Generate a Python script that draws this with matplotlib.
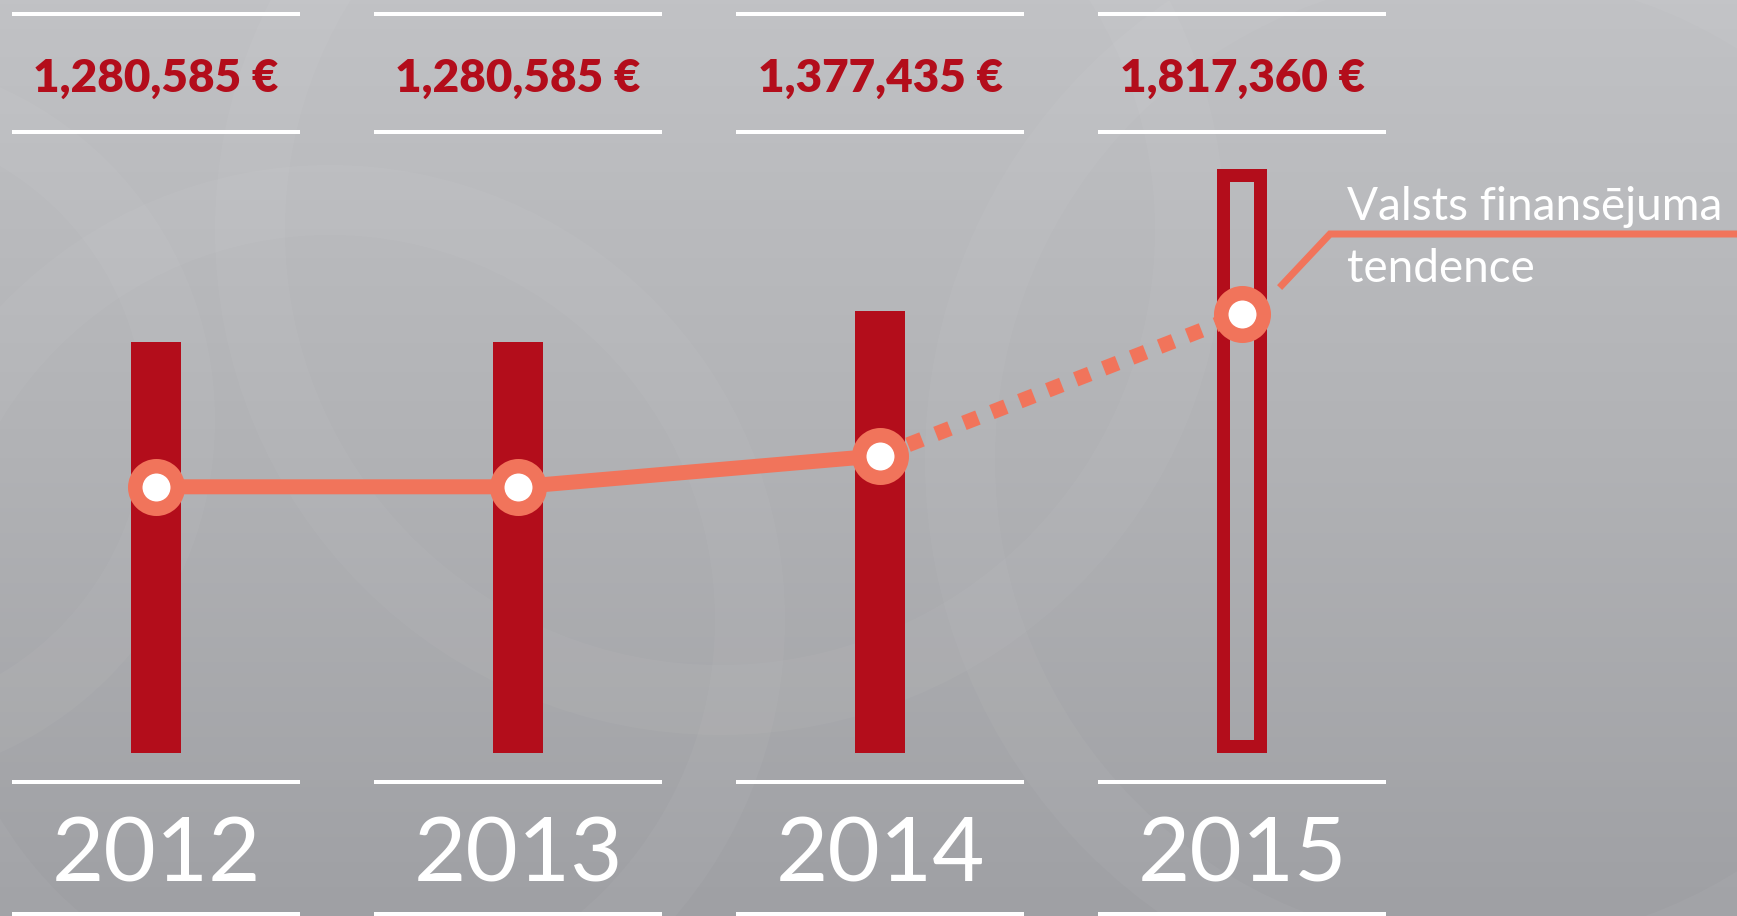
import matplotlib.pyplot as plt
import matplotlib.colors as mcolors
from matplotlib.patches import Circle
from matplotlib.transforms import ScaledTranslation, blended_transform_factory
import numpy as np

years = ['2012', '2013', '2014', '2015']
funding = [1280585, 1280585, 1377435, 1817360]
funding_labels = ['1,280,585 €', '1,280,585 €', '1,377,435 €', '1,817,360 €']
note_lines = ['Valsts finansējuma', 'tendence']

RED = '#b30d1b'
SALMON = '#f1745b'
W, H, DPI = 1737, 916, 100


def px(v):
    # pixels -> points
    return v * 72 / DPI


def backdrop(fig):
    bg = fig.add_axes([0, 0, 1, 1], zorder=-1)
    grad = np.linspace(0, 1, 256).reshape(-1, 1)
    cmap = mcolors.LinearSegmentedColormap.from_list('bg', ['#c1c2c5', '#b1b2b5', '#9fa0a4'])
    bg.imshow(grad, cmap=cmap, extent=[0, W, H, 0], aspect='auto')
    # faint rings of the background emblem (pixel space)
    for cx, cy, r in [(1480, 460, 520), (720, 230, 470), (330, 620, 420), (-150, 420, 330)]:
        bg.add_patch(Circle((cx, cy), r, fill=False, edgecolor='white', alpha=0.035,
                            linewidth=px(70)))
    bg.set_xlim(0, W)
    bg.set_ylim(H, 0)
    bg.axis('off')


def main():
    fig = plt.figure(figsize=(W / DPI, H / DPI), dpi=DPI)
    backdrop(fig)

    ax = fig.add_axes([0, 0, 1, 1])
    ax.patch.set_visible(False)
    ax.set_xlim(-0.431, 4.367)
    ax.set_ylim(-507600, 2345000)
    ax.axis('off')

    x = np.arange(len(years))
    bw = 0.138

    ax.bar(x[:3], funding[:3], width=bw, color=RED, zorder=2)
    outline = ax.bar(x[3:], funding[3:], width=bw, fill=False, edgecolor=RED,
                     linewidth=px(26), zorder=2)
    for b in outline:
        b.set_clip_path(b)  # keep the stroke inside the bar

    # trend line sits a fixed distance below the bar tops
    shift = ax.transData + ScaledTranslation(0, -1.45, fig.dpi_scale_trans)
    ax.plot(x[:3], funding[:3], color=SALMON, lw=px(15), transform=shift, zorder=3,
            solid_capstyle='butt')
    ax.plot(x[2:], funding[2:], color=SALMON, lw=px(15), ls=(0, (1, 1)),
            dash_capstyle='butt', transform=shift, zorder=3)
    ax.plot(x, funding, ls='none', marker='o', ms=px(42.5), mfc='white', mec=SALMON,
            mew=px(14.5), transform=shift, zorder=4)

    # white rules around labels
    tr = blended_transform_factory(ax.transData, ax.transAxes)
    half = 0.398
    for yy in [14, 132, 782, 914]:
        ax.hlines(np.full(len(x), 1 - yy / H), x - half, x + half, colors='white',
                  lw=px(4), transform=tr, zorder=2)

    for xi, lab, yr in zip(x, funding_labels, years):
        ax.text(xi, 1 - 92 / H, lab, transform=tr, ha='center', va='baseline',
                color=RED, fontsize=33, fontweight='heavy', family='Lato', zorder=5)
        ax.text(xi, 1 - 882 / H, yr, transform=tr, ha='center', va='baseline',
                color='white', fontsize=65, fontweight='normal', family='Lato', zorder=5)

    # leader + note for the trend
    lx = np.array([1282, 1330, 1737])
    ly = np.array([285, 234, 234])
    ax.plot(lx / W, 1 - ly / H, color=SALMON, lw=px(7), transform=ax.transAxes,
            zorder=3, solid_joinstyle='miter')
    ax.text(1347 / W, 1 - 220 / H, note_lines[0], transform=ax.transAxes,
            color='white', fontsize=33, fontweight='normal', family='Lato', zorder=5)
    ax.text(1347 / W, 1 - 282 / H, note_lines[1], transform=ax.transAxes,
            color='white', fontsize=33, fontweight='normal', family='Lato', zorder=5)

    fig.savefig('out.png', dpi=DPI)


if __name__ == "__main__":
    main()
